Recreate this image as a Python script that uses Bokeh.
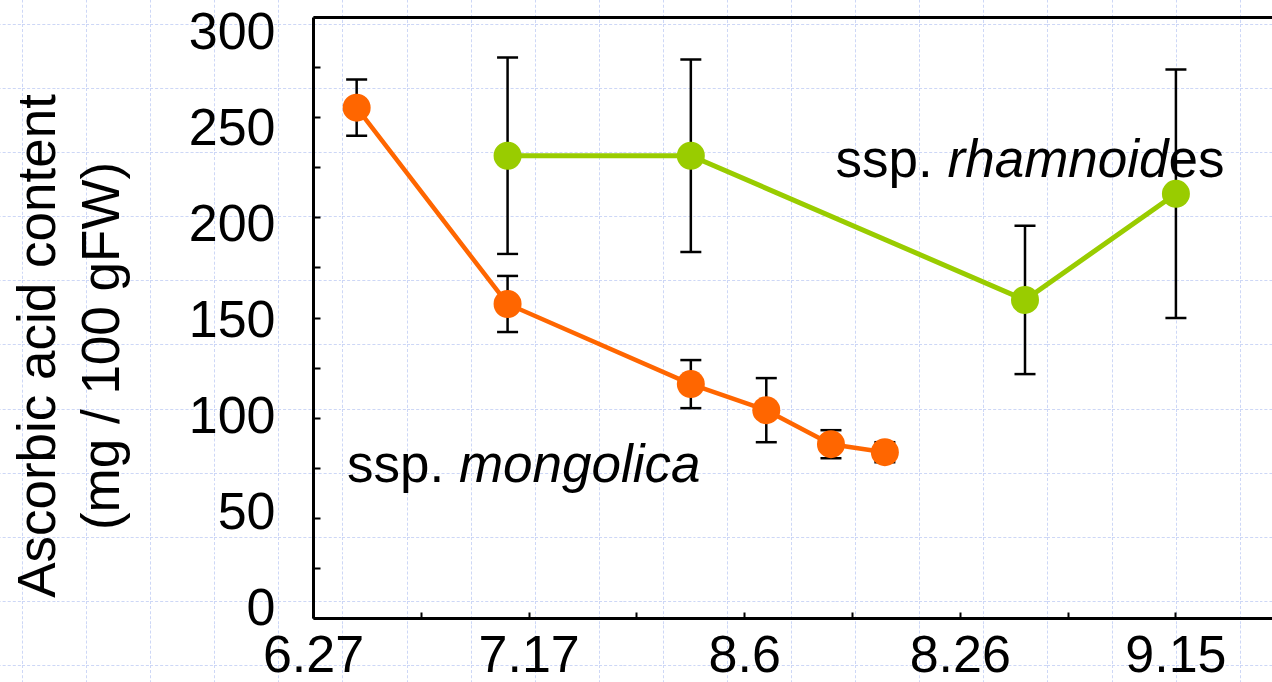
from bokeh.plotting import figure
from bokeh.models import (ColumnDataSource, Range1d, LinearAxis, FixedTicker,
                          Whisker, TeeHead, Label, InlineStyleSheet)
from bokeh.embed import file_html
from bokeh.resources import INLINE

# ---- data (x = days after June 27 sampling) ----
mong_day = [4, 18, 35, 42, 48, 53]
mong_val = [255, 157, 117, 104, 87, 83]
mong_err = [14, 14, 12, 16, 7, 5]

rham_day = [18, 35, 66, 80]
rham_val = [231, 231, 159, 212]
rham_err = [49, 48, 37, 62]

x_label_days = [0, 20, 40, 60, 80]
x_tick_labels = ["6.27", "7.17", "8.6", "8.26", "9.15"]
x_minor_days = [10, 30, 50, 70]
y_ticks = [0, 25, 50, 75, 100, 125, 150, 175, 200, 225, 250, 275, 300]
y_labels = [0, 50, 100, 150, 200, 250, 300]

ORANGE = "#FF6600"
GREEN = "#99CC00"
FONT = "Liberation Sans"

tile = ("<svg xmlns='http://www.w3.org/2000/svg' width='64.1' height='64.1'>"
        "<path d='M0.5 0V64.1M0 0.5H64.1' stroke='%23cdd7f6' stroke-width='1' "
        "stroke-dasharray='3,2' fill='none'/></svg>")
css = (':host { background-color: white; background-image: url("data:image/svg+xml;utf8,'
       + tile + '"); background-size: 64.1px 64.1px; background-position: 22px 24px; }')

X0, X1 = -29.04, 88.96
p = figure(width=1272, height=682, output_backend="svg", toolbar_location=None,
           x_range=Range1d(X0, X1), y_range=Range1d(-31.95, 308.49),
           min_border_left=0, min_border_right=0, min_border_top=0,
           min_border_bottom=0)
p.stylesheets = [InlineStyleSheet(css=css)]
p.background_fill_color = None
p.border_fill_color = None
p.outline_line_color = None
p.xgrid.visible = False
p.ygrid.visible = False

# main x axis, fixed at y = 0
xa = p.xaxis[0]
xa.fixed_location = 0
xa.bounds = (0, X1)
xa.ticker = FixedTicker(ticks=x_label_days, minor_ticks=x_minor_days)
xa.major_label_overrides = {t: l for t, l in zip(x_label_days, x_tick_labels)}
xa.axis_line_width = 3
xa.axis_line_color = "black"
xa.major_tick_in = 6
xa.major_tick_out = 0
xa.major_tick_line_width = 2
xa.minor_tick_in = 6
xa.minor_tick_out = 0
xa.minor_tick_line_width = 2
xa.minor_tick_line_color = "black"
xa.major_label_text_font = FONT
xa.major_label_text_font_size = "52px"
xa.major_label_text_color = "black"
xa.major_label_standoff = 18

# main y axis (tick marks only), fixed at x = 0
ya = p.yaxis[0]
ya.fixed_location = 0
ya.bounds = (0, 300)
ya.ticker = FixedTicker(ticks=[], minor_ticks=y_ticks)
ya.major_label_standoff = 0
ya.axis_line_width = 3
ya.axis_line_color = "black"
ya.major_tick_in = 0
ya.major_tick_out = 0
ya.minor_tick_in = 7
ya.minor_tick_out = 0
ya.minor_tick_line_width = 2
ya.minor_tick_line_color = "black"

# y tick labels and axis title
p.extra_y_ranges = {"lab": Range1d(-39.0, 315.6)}
la = LinearAxis(y_range_name="lab", fixed_location=0, bounds=(-28, 300),
                ticker=FixedTicker(ticks=y_labels),
                axis_line_color=None, major_tick_line_color=None,
                minor_tick_line_color=None, major_tick_in=0, major_tick_out=0,
                major_label_standoff=38, major_label_text_font=FONT,
                major_label_text_font_size="52px", major_label_text_color="black",
                axis_label="Ascorbic acid content\n(mg / 100 gFW)",
                axis_label_standoff=56, axis_label_text_font=FONT,
                axis_label_text_font_size="53px", axis_label_text_font_style="normal",
                axis_label_text_color="black", axis_label_text_line_height=1.08)
p.add_layout(la, "left")

# top frame line
ta = LinearAxis(fixed_location=300, bounds=(0, X1), ticker=FixedTicker(ticks=[]),
                axis_line_width=3, axis_line_color="black",
                major_tick_in=0, major_tick_out=0, minor_tick_in=0, minor_tick_out=0,
                major_label_standoff=0)
p.add_layout(ta, "above")

# series
src_m = ColumnDataSource(dict(x=mong_day, y=mong_val,
                              lo=[v - e for v, e in zip(mong_val, mong_err)],
                              hi=[v + e for v, e in zip(mong_val, mong_err)]))
src_r = ColumnDataSource(dict(x=rham_day, y=rham_val,
                              lo=[v - e for v, e in zip(rham_val, rham_err)],
                              hi=[v + e for v, e in zip(rham_val, rham_err)]))

for src in (src_m, src_r):
    p.add_layout(Whisker(source=src, base="x", upper="hi", lower="lo", dimension="height",
                         line_color="black", line_width=2.5,
                         upper_head=TeeHead(size=21, line_width=2.5, line_color="black"),
                         lower_head=TeeHead(size=21, line_width=2.5, line_color="black")))

p.line("x", "y", source=src_m, line_color=ORANGE, line_width=4.5)
p.line("x", "y", source=src_r, line_color=GREEN, line_width=5)
p.scatter("x", "y", source=src_m, size=28, fill_color=ORANGE, line_color=None)
p.scatter("x", "y", source=src_r, size=28, fill_color=GREEN, line_color=None)

# series labels
def txt(x, y, text, xoff=0, style="normal"):
    p.add_layout(Label(x=x, y=y, text=text, x_offset=xoff, text_font=FONT,
                       text_font_size="53px", text_font_style=style, text_color="black",
                       text_align="left", text_baseline="alphabetic"))

txt(3.1, 77.4, "ssp.")
txt(3.1, 77.4, "mongolica", 112, "italic")
txt(48.43, 229.6, "ssp.")
txt(48.43, 229.6, "rhamnoid", 112, "italic")
txt(48.43, 229.6, "es", 333)

open("out.html", "w").write(file_html(p, INLINE))
